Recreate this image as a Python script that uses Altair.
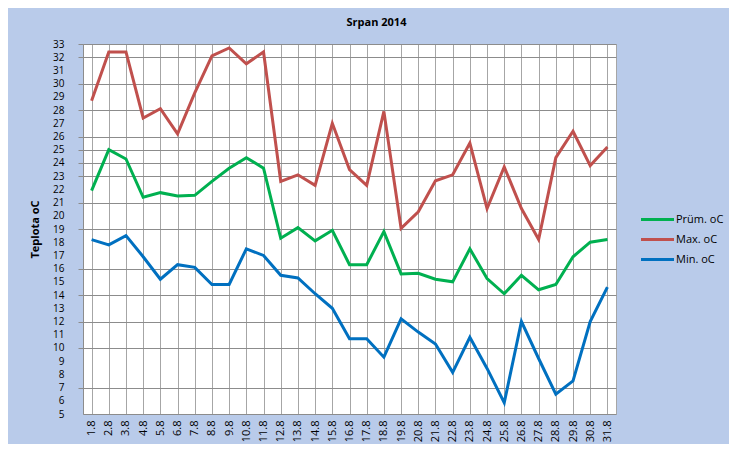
import altair as alt
import pandas as pd

days = [f"{d}.8" for d in range(1, 32)]

prum = [21.9, 25.0, 24.3, 21.4, 21.75, 21.5, 21.55, 22.6, 23.6, 24.4, 23.6,
        18.3, 19.1, 18.1, 18.9, 16.3, 16.3, 18.8, 15.6, 15.65, 15.2, 15.0,
        17.5, 15.25, 14.1, 15.5, 14.4, 14.8, 16.9, 18.0, 18.2]
maxi = [28.7, 32.4, 32.4, 27.4, 28.1, 26.2, 29.3, 32.1, 32.7, 31.5, 32.4,
        22.6, 23.1, 22.3, 27.0, 23.5, 22.3, 27.9, 19.05, 20.3, 22.65, 23.1,
        25.5, 20.55, 23.7, 20.55, 18.2, 24.4, 26.4, 23.8, 25.2]
mini = [18.2, 17.8, 18.5, 16.9, 15.2, 16.3, 16.1, 14.8, 14.8, 17.5, 17.0,
        15.5, 15.3, 14.1, 13.0, 10.7, 10.7, 9.3, 12.2, 11.2, 10.3, 8.15,
        10.8, 8.45, 5.85, 12.0, 9.2, 6.5, 7.5, 12.0, 14.6]

series_names = ["Prüm. oC", "Max. oC", "Min. oC"]
series_colors = ["#00B050", "#C0504D", "#0070C0"]
y_ticks = list(range(5, 34))
grid_values = [33, 32, 30, 28, 26, 25, 24, 23, 21, 19, 16, 14, 12, 10, 7]

rows = []
for name, vals in zip(series_names, [prum, maxi, mini]):
    for d, v in zip(days, vals):
        rows.append({"den": d, "teplota": v, "serie": name})
df = pd.DataFrame(rows)

grid_test = "indexof([" + ",".join(str(g) for g in grid_values) + "], datum.value) >= 0"

font = "Open Sans"

chart = alt.Chart(df).mark_line(strokeWidth=3).encode(
    x=alt.X("den:N", sort=days,
            scale=alt.Scale(paddingInner=0, paddingOuter=0),
            axis=alt.Axis(title=None, labelAngle=-90, labelFontSize=11,
                          labelColor="#000000", labelFont=font,
                          labelPadding=6, ticks=False, grid=True,
                          bandPosition=0, gridColor="#a6a6a6",
                          domainColor="#8c8c8c", labelBaseline="middle",
                          labelAlign="right")),
    y=alt.Y("teplota:Q",
            scale=alt.Scale(domain=[5, 33], nice=False, zero=False),
            axis=alt.Axis(title="Teplota oC", values=y_ticks,
                          labelFontSize=10, labelColor="#000000",
                          labelFont=font, labelPadding=14,
                          tickSize=5, tickColor="#8c8c8c",
                          tickOpacity={"condition": {"test": grid_test, "value": 1}, "value": 0},
                          grid=True, gridColor="#8c8c8c",
                          gridOpacity={"condition": {"test": grid_test, "value": 1}, "value": 0},
                          domainColor="#8c8c8c",
                          titleFontSize=11, titleFont=font, titleFontWeight="bold",
                          titleColor="#000000", titlePadding=12)),
    color=alt.Color("serie:N",
                    scale=alt.Scale(domain=series_names, range=series_colors),
                    sort=series_names,
                    legend=alt.Legend(title=None, orient="none",
                                      legendX=562, legendY=163,
                                      symbolType="M-1.5,0H1.5", symbolSize=484,
                                      symbolStrokeWidth=3, labelOffset=6,
                                      labelFontSize=11, labelFont=font,
                                      labelColor="#000000", rowPadding=1)),
).properties(
    width=533,
    height=370,
    title=alt.TitleParams("Srpan 2014", fontSize=11, font=font,
                          fontWeight="bold", color="#000000",
                          anchor="middle", dx=27, offset=11),
    background="#B9CBEA",
    padding={"left": 75, "top": 36, "right": 113, "bottom": 30},
    autosize=alt.AutoSizeParams(type="none"),
).configure_view(
    fill="#FFFFFF", stroke="#a6a6a6"
)

chart.save("out.html", embed_options={"renderer": "svg", "actions": False})
